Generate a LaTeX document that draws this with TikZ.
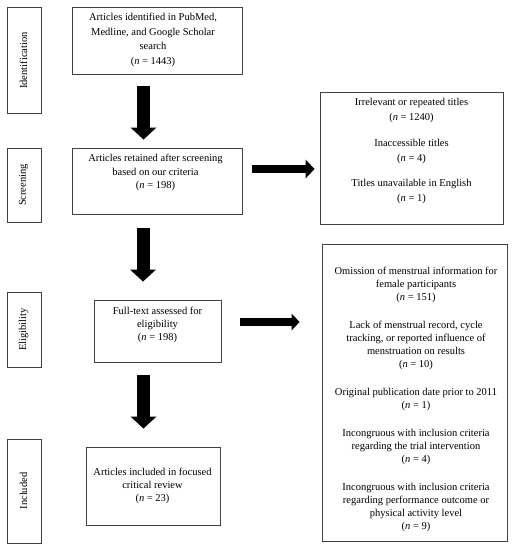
\documentclass[tikz,border=0pt]{standalone}
\usepackage{fontspec}
\setmainfont{Liberation Serif}
\usetikzlibrary{arrows.meta}
\begin{document}
\begin{tikzpicture}[x=1pt,y=-1pt,
  boxframe/.style={draw=black!75,line width=0.9pt,inner sep=0pt,fill=white},
  txt/.style={align=center,inner sep=0pt,font=\fontsize{10.5}{#1}\selectfont},
  txt/.default=13,
  sidelabel/.style={rotate=90,inner sep=0pt,font=\fontsize{10.5}{13}\selectfont},
  downarrow/.style={line width=13pt,-{Triangle[width=26pt,length=12pt,line width=0pt]}},
  rightarrow/.style={line width=7.5pt,-{Triangle[width=19pt,length=9pt,line width=0pt]}}
]
\useasboundingbox (0,0) rectangle (512,550);
\fill[white] (0,0) rectangle (512,550);

% stage labels
\node[boxframe,minimum width=34pt,minimum height=106pt] (sid) at (24,60) {};
\node[sidelabel] (tid) at (23.5,60.5) {Identification};
\node[boxframe,minimum width=34pt,minimum height=74pt] (ssc) at (24,185) {};
\node[sidelabel] (tsc) at (23.5,185) {Screening};
\node[boxframe,minimum width=34pt,minimum height=75pt] (sel) at (24,329.5) {};
\node[sidelabel] (tel) at (23.5,329.5) {Eligibility};
\node[boxframe,minimum width=34pt,minimum height=104pt] (sin) at (24,491) {};
\node[sidelabel] (tin) at (23.5,491) {Included};

% main boxes
\node[boxframe,minimum width=170pt,minimum height=67pt] (b1) at (157,40.5) {};
\node[txt=14.5] (t1) at (153,40) {Articles identified in PubMed,\\Medline, and Google Scholar\\search\\(\textit{n} = 1443)};

\node[boxframe,minimum width=170pt,minimum height=66pt] (b2) at (157,181) {};
\node[txt=13.5] (t2) at (155.5,172.5) {Articles retained after screening\\based on our criteria\\(\textit{n} = 198)};

\node[boxframe,minimum width=127pt,minimum height=62pt] (b3) at (157.5,331) {};
\node[txt=13] (t3) at (157.5,325) {Full-text assessed for\\eligibility\\(\textit{n} = 198)};

\node[boxframe,minimum width=134pt,minimum height=78pt] (b4) at (153,486) {};
\node[txt=13] (t4) at (152.5,486) {Articles included in focused\\critical review\\(\textit{n} = 23)};

% exclusion boxes
\node[boxframe,minimum width=183pt,minimum height=132pt] (ba) at (411.5,158) {};
\node[txt=15] (ta) at (411.5,151) {Irrelevant or repeated titles\\(\textit{n} = 1240)\\[10.5pt]Inaccessible titles\\(\textit{n} = 4)\\[10.5pt]Titles unavailable in English\\(\textit{n} = 1)};

\node[boxframe,minimum width=185pt,minimum height=297pt] (bb) at (414.5,392.5) {};
\node[txt=13] (tb) at (416,399) {Omission of menstrual information for\\female participants\\(\textit{n} = 151)\\[15pt]Lack of menstrual record, cycle\\tracking, or reported influence of\\menstruation on results\\(\textit{n} = 10)\\[15pt]Original publication date prior to 2011\\(\textit{n} = 1)\\[15pt]Incongruous with inclusion criteria\\regarding the trial intervention\\(\textit{n} = 4)\\[15pt]Incongruous with inclusion criteria\\regarding performance outcome or\\physical activity level\\(\textit{n} = 9)};

% arrows
\draw[downarrow] ([xshift=-13.5pt,yshift=-12pt]b1.south) -- ([xshift=-13.5pt,yshift=8pt]b2.north);
\draw[downarrow] ([xshift=-14pt,yshift=-14pt]b2.south) -- ([xshift=-14.5pt,yshift=18pt]b3.north);
\draw[downarrow] ([xshift=-14pt,yshift=-13pt]b3.south) -- ([xshift=-9.5pt,yshift=18pt]b4.north);
\draw[rightarrow] ([xshift=10pt,yshift=12pt]b2.east) -- ([xshift=-5pt,yshift=-11pt]ba.west);
\draw[rightarrow,line width=8pt,-{Triangle[width=17pt,length=8pt,line width=0pt]}] ([xshift=19pt,yshift=9pt]b3.east) -- ([xshift=-22pt,yshift=70.5pt]bb.west);
\end{tikzpicture}
\end{document}
